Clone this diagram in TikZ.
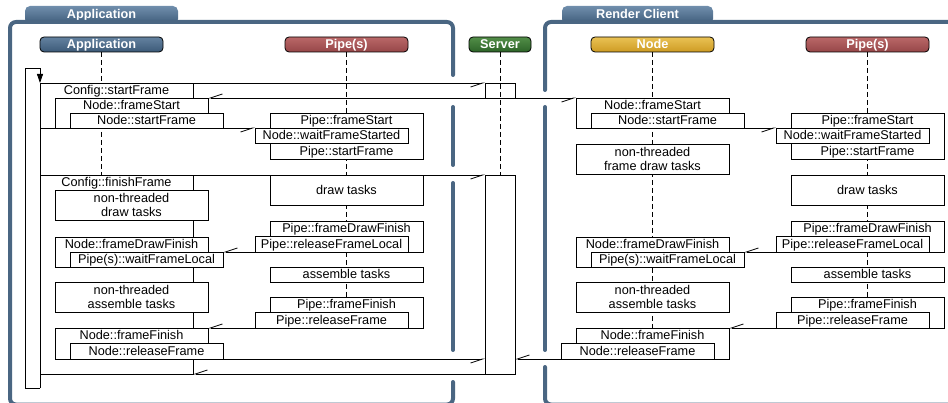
\documentclass[tikz,border=0pt]{standalone}
\usepackage{fontspec}
\setmainfont{Liberation Sans}
\usetikzlibrary{arrows.meta,calc}
\definecolor{frameC}{RGB}{74,102,130}
\definecolor{tabTop}{RGB}{112,142,172}
\definecolor{tabBot}{RGB}{62,92,122}
\definecolor{appTop}{RGB}{100,130,160}
\definecolor{appBot}{RGB}{60,90,120}
\definecolor{pipeTop}{RGB}{186,104,104}
\definecolor{pipeBot}{RGB}{150,70,72}
\definecolor{srvTop}{RGB}{82,142,72}
\definecolor{srvBot}{RGB}{45,100,40}
\definecolor{nodeTop}{RGB}{234,194,84}
\definecolor{nodeBot}{RGB}{205,155,35}
\begin{document}
\begin{tikzpicture}[x=1pt,y=-1pt,
  every node/.style={font=\fontsize{12.7}{14.5}\selectfont, inner sep=0pt, outer sep=0pt},
  box/.style={draw, fill=white, line width=0.8pt, anchor=north west, minimum width=153pt, align=center},
  one/.style={text height=9pt, text depth=0pt},
  lbl/.style={anchor=base},
  msg/.style={line width=0.8pt, -{Straight Barb[harpoon,swap,length=12pt,width=8pt]}},
  life/.style={line width=0.8pt, dash pattern=on 5pt off 3pt},
  frame/.style={draw=frameC, line width=4pt, line cap=round},
  head/.style={draw, line width=0.8pt, rounded corners=4pt, minimum width=123pt, minimum height=15pt,
    text=white, text height=9pt, text depth=0pt, font=\fontsize{12.7}{14.5}\selectfont\bfseries},
  tabtext/.style={text=white, text height=9pt, text depth=0pt, font=\fontsize{12.7}{14.5}\selectfont\bfseries},
]
\useasboundingbox (0,0) rectangle (948,403);

% tabs
\shade[top color=tabTop, bottom color=tabBot, rounded corners=5pt] (25,24) rectangle (178,6);
\node[tabtext] (tabApp) at (101.5,13.8) {Application};
\shade[top color=tabTop, bottom color=tabBot, rounded corners=5pt] (562,24) rectangle (713,6);
\node[tabtext] (tabRC) at (637.5,13.8) {Render Client};

% frames
\draw[frame, rounded corners=6pt] (453,75) -- (453,22) -- (10,22) -- (10,404.5) -- (453,404.5) -- (453,382);
\draw[frame] (453,107) -- (453,165);
\draw[frame] (453,183) -- (453,350);
\draw[frame, rounded corners=6pt] (545,90) -- (545,22) -- (960,22);
\draw[frame] (545,107) -- (545,350);
\draw[frame, rounded corners=6pt] (545,367) -- (545,404.5) -- (960,404.5);

% heads
\node[head, top color=appTop, bottom color=appBot] (hApp) at (101.5,44.5) {Application};
\node[head, top color=pipeTop, bottom color=pipeBot] (hPipe) at (346.5,44.5) {Pipe(s)};
\node[head, top color=srvTop, bottom color=srvBot, minimum width=62pt] (hSrv) at (500,44.5) {Server};
\node[head, top color=nodeTop, bottom color=nodeBot] (hNode) at (652.5,44.5) {Node};
\node[head, top color=pipeTop, bottom color=pipeBot] (hRPipe) at (867.5,44.5) {Pipe(s)};

% lifelines
\draw[life] (hApp.south) -- (hApp.south |- 0,374);
\draw[life] (hPipe.south) -- (hPipe.south |- 0,297);
\draw[life] (hSrv.south) -- (hSrv.south |- 0,175);
\draw[life] (hNode.south) -- (hNode.south |- 0,328);
\draw[life] (hRPipe.south) -- (hRPipe.south |- 0,297);

% ---------- Application side ----------
\node[box,minimum height=45pt] (cfgS) at (40,83) {};
\node[box,minimum height=30pt] (nfS) at (55,98) {};
\node[box,one,minimum height=15pt] (nsF) at (70,113) {Node::startFrame};
\node[lbl] (cfgST) at (116.5,95) {Config::startFrame};
\node[lbl] (nfST) at (131.5,110) {Node::frameStart};

\node[box,minimum height=46pt] (pfS) at (270,113) {};
\node[box,one,minimum height=15pt] (nwFS) at (255,128) {Node::waitFrameStarted};
\node[lbl] (pfST) at (346.5,125) {Pipe::frameStart};
\node[lbl] (psFT) at (346.5,155.5) {Pipe::startFrame};

\node[box,minimum width=30pt,minimum height=15pt,fill=none] (srv1) at (485,83) {};

\node[box,minimum height=199pt] (cfgF) at (40,175) {};
\node[lbl] (cfgFT) at (116.5,187) {Config::finishFrame};
\node[box,minimum height=30pt] (ntd) at (55,190) {non-threaded\\draw tasks};
\node[box,minimum height=30pt] (ndF) at (55,237) {};
\node[box,one,minimum height=15pt] (pwL) at (70,252) {Pipe(s)::waitFrameLocal};
\node[lbl] (ndFT) at (131.5,249) {Node::frameDrawFinish};
\node[box,minimum height=30pt] (nta) at (55,282) {non-threaded\\assemble tasks};
\node[box,minimum height=31pt] (nfF) at (55,328) {};
\node[box,one,minimum height=16pt] (nrF) at (70,343) {Node::releaseFrame};
\node[lbl] (nfFT) at (131.5,340) {Node::frameFinish};

\node[box,one,minimum height=30pt] (dt) at (270,175) {draw tasks};
\node[box,minimum height=31pt] (pdF) at (270,221) {};
\node[box,one,minimum height=16pt] (prFL) at (255,236) {Pipe::releaseFrameLocal};
\node[lbl] (pdFT) at (346.5,233) {Pipe::frameDrawFinish};
\node[box,one,minimum height=15pt] (asm) at (270,267) {assemble tasks};
\node[box,minimum height=31pt] (pff) at (270,297) {};
\node[box,one,minimum height=16pt] (prF) at (255,312) {Pipe::releaseFrame};
\node[lbl] (pffT) at (346.5,309) {Pipe::frameFinish};

\node[box,minimum width=30pt,minimum height=199pt] (srv2) at (485,175) {};

% ---------- Render client side ----------
\node[box,minimum height=30pt] (rnfS) at (576,98) {};
\node[box,one,minimum height=15pt] (rnsF) at (591,113) {Node::startFrame};
\node[lbl] (rnfST) at (652.5,110) {Node::frameStart};
\node[box,minimum height=46pt] (rpfS) at (791,113) {};
\node[box,one,minimum height=15pt] (rnwFS) at (776,128) {Node::waitFrameStarted};
\node[lbl] (rpfST) at (867.5,125) {Pipe::frameStart};
\node[lbl] (rpsFT) at (867.5,155.5) {Pipe::startFrame};
\node[box,minimum height=30pt] (rntd) at (576,144) {non-threaded\\frame draw tasks};
\node[box,one,minimum height=30pt] (rdt) at (791,175) {draw tasks};
\node[box,minimum height=31pt] (rpdF) at (791,221) {};
\node[box,one,minimum height=16pt] (rprFL) at (776,236) {Pipe::releaseFrameLocal};
\node[lbl] (rpdFT) at (867.5,233) {Pipe::frameDrawFinish};
\node[box,minimum height=30pt] (rndF) at (576,237) {};
\node[box,one,minimum height=15pt] (rpwL) at (591,252) {Pipe(s)::waitFrameLocal};
\node[lbl] (rndFT) at (652.5,249) {Node::frameDrawFinish};
\node[box,one,minimum height=15pt] (rasm) at (791,267) {assemble tasks};
\node[box,minimum height=30pt] (rnta) at (576,282) {non-threaded\\assemble tasks};
\node[box,minimum height=31pt] (rpff) at (791,297) {};
\node[box,one,minimum height=16pt] (rprF) at (776,312) {Pipe::releaseFrame};
\node[lbl] (rpffT) at (867.5,309) {Pipe::frameFinish};
\node[box,minimum height=31pt] (rnfF) at (576,328) {};
\node[box,one,minimum height=16pt] (rnrF) at (561,343) {Node::releaseFrame};
\node[lbl] (rnfFT) at (652.5,340) {Node::frameFinish};

% ---------- messages ----------
\draw[msg] (cfgS.north east) -- (srv1.north west);
\draw[msg] (srv1.south west) -- (nfS.north east);
\draw[msg] (srv1.south east) -- (rnfS.north west);
\draw[msg] (nsF.south east) -- (nwFS.north west);
\draw[msg] (rnsF.south east) -- (rnwFS.north west);
\draw[msg] (cfgF.north east) -- (srv2.north west);
\draw[msg] (prFL.south west) -- (pwL.north east);
\draw[msg] (rprFL.south west) -- (rpwL.north east);
\draw[msg] (prF.south west) -- (nfF.north east);
\draw[msg] (rprF.south west) -- (rnfF.north east);
\draw[msg] (nrF.south east) -- (srv2.west |- nrF.south);
\draw[msg] (rnrF.south west) -- (srv2.east |- rnrF.south);
\draw[msg] (srv2.south west) -- (cfgF.south east);

% ---------- frame loop ----------
\coordinate (loopB) at (40,388);
\draw[line width=0.8pt] (cfgS.north west) -- (loopB);
\draw[line width=0.8pt, -{Triangle[length=9pt,width=6pt]}] (loopB) -- (25,388) -- (25,68) -- (40,68) -- (cfgS.north west);
\end{tikzpicture}
\end{document}
